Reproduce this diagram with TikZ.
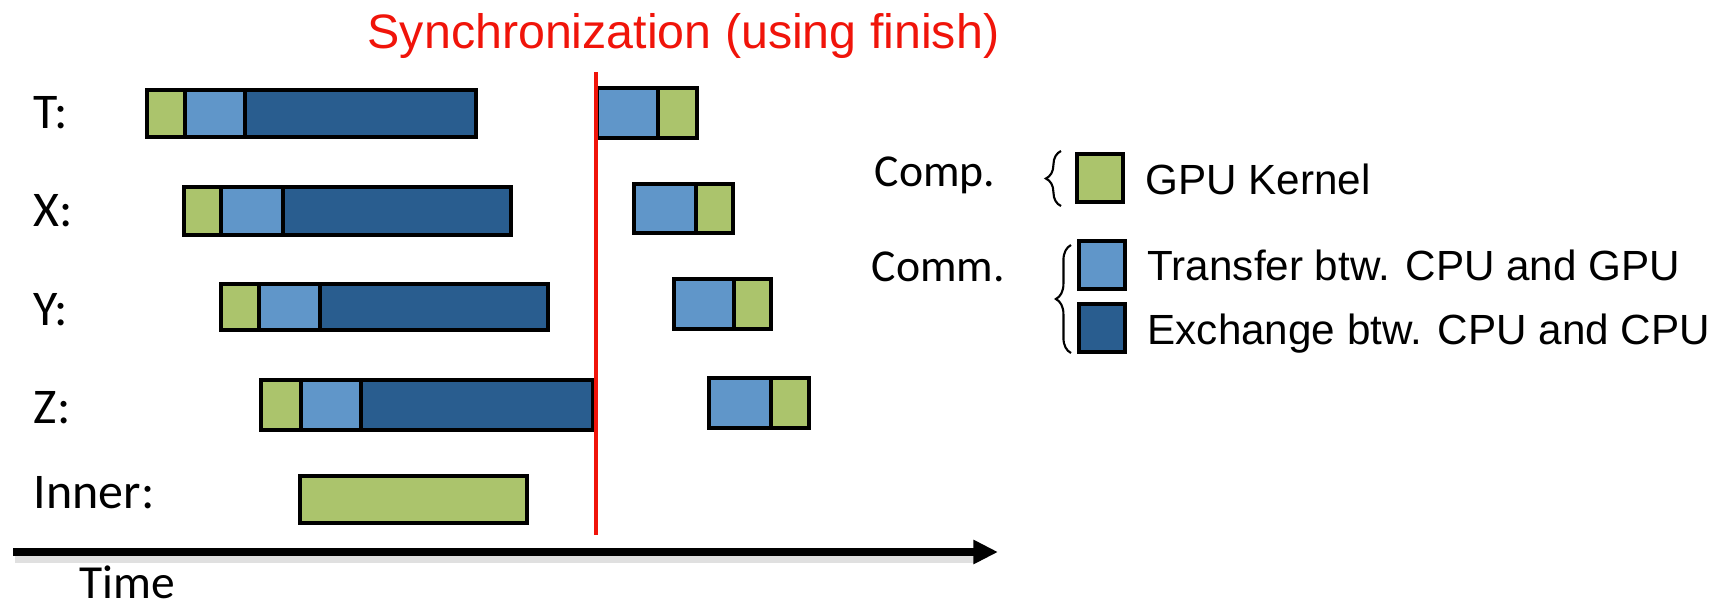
\documentclass[tikz,border=0pt]{standalone}
\usepackage{fontspec}
\setmainfont{Liberation Sans}
\newfontfamily\calib{Carlito}
\usepackage{tikz}
\usetikzlibrary{arrows.meta,decorations.pathreplacing}
\definecolor{kgreen}{RGB}{171,196,108}
\definecolor{lblue}{RGB}{96,150,201}
\definecolor{dblue}{RGB}{41,93,143}
\definecolor{syncred}{RGB}{240,20,10}

\begin{document}
\begin{tikzpicture}[x=0.01cm,y=-0.01cm,
    bar/.style={draw,line width=1.1pt},
    kern/.style={bar,fill=kgreen},
    xfer/.style={bar,fill=lblue},
    exch/.style={bar,fill=dblue},
    legbox/.style={draw,line width=1.1pt,minimum width=0.46cm,minimum height=0.48cm,inner sep=0pt},
    rowlbl/.style={font=\calib\fontsize{14.2}{16}\selectfont,anchor=base west,inner sep=0pt},
    legtxt/.style={font=\fontsize{12}{14}\selectfont,anchor=base west,inner sep=0pt}]
      \useasboundingbox (0,0) rectangle (1729,608);
      \node[anchor=base west,inner sep=0pt,text=syncred,font=\fontsize{13.75}{16}\selectfont] (sync) at (367,48) {Synchronization (using finish)};
      % row labels
      \node[rowlbl] (lT) at (33,128) {T:};
      \node[rowlbl] (lX) at (33,226) {X:};
      \node[rowlbl] (lY) at (33,325) {Y:};
      \node[rowlbl] (lZ) at (33,423) {Z:};
      \node[rowlbl] (lI) at (33,508) {Inner:};
      \node[rowlbl,text depth=0pt,font=\calib\fontsize{13.5}{16}\selectfont] (lt) at (79,598) {Time};
      % before the synchronization
      \draw[kern] (147, 90) rectangle (185,137);
      \draw[xfer] (185, 90) rectangle (245,137);
      \draw[exch] (245, 90) rectangle (476,137);
      \draw[kern] (184,187) rectangle (221,235);
      \draw[xfer] (221,187) rectangle (283,235);
      \draw[exch] (283,187) rectangle (511,235);
      \draw[kern] (221,284) rectangle (259,330);
      \draw[xfer] (259,284) rectangle (320,330);
      \draw[exch] (320,284) rectangle (548,330);
      \draw[kern] (261,380) rectangle (301,430);
      \draw[xfer] (301,380) rectangle (361,430);
      \draw[exch] (361,380) rectangle (593,430);
      \draw[kern] (300,476) rectangle (527,523);
      % after the synchronization
      \draw[xfer] (597, 88) rectangle (658,138);
      \draw[kern] (658, 88) rectangle (697,138);
      \draw[xfer] (634,184) rectangle (696,233);
      \draw[kern] (696,184) rectangle (733,233);
      \draw[xfer] (674,279) rectangle (734,329);
      \draw[kern] (734,279) rectangle (771,329);
      \draw[xfer] (709,378) rectangle (771,428);
      \draw[kern] (771,378) rectangle (809,428);
      % sync line and time axis
      \coordinate (s1) at (596,72);
      \coordinate (s2) at (596,535);
      \draw[syncred,line width=1pt] (s1) -- (s2);
      \coordinate (t0) at (13,552);
      \coordinate (t1) at (998,552);
      \draw[black!12,line width=2pt] ([shift={(2,7)}]t0) -- ([shift={(-22,7)}]t1);
      \draw[line width=2pt,-{Triangle[length=7pt,width=6.5pt]}] (t0) -- (t1);
      % legend
      \node[anchor=base west,inner sep=0pt,font=\calib\fontsize{13}{15}\selectfont] (comp) at (874,186) {Comp.};
      \node[anchor=base west,inner sep=0pt,font=\calib\fontsize{13}{15}\selectfont] (comm) at (871,281) {Comm.};
      \node[legbox,fill=kgreen] (gk) at (1100,178) {};
      \node[legbox,fill=lblue] (tr) at (1102,265) {};
      \node[legbox,fill=dblue] (ex) at (1102,328) {};
      \node[legtxt] (gkt) at (1145,194) {GPU Kernel};
      \node[legtxt] (trt) at (1147,280) {Transfer btw. CPU and GPU};
      \node[legtxt] (ext) at (1147,344) {Exchange btw. CPU and CPU};
      \coordinate (b1a) at (1061,206);
      \coordinate (b1b) at (1061,151);
      \coordinate (b2a) at (1071,353);
      \coordinate (b2b) at (1071,245);
      \draw[line width=0.6pt,decorate,decoration={brace,amplitude=4.3pt}] (b1a) -- (b1b);
      \draw[line width=0.6pt,decorate,decoration={brace,amplitude=4.3pt}] (b2a) -- (b2b);
    \end{tikzpicture}
\end{document}
